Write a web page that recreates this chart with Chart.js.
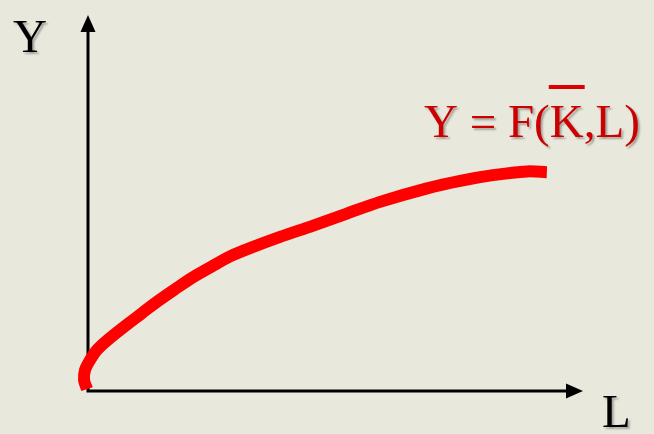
<!DOCTYPE html>
<html>
<head>
<meta charset="utf-8">
<script src="https://cdn.jsdelivr.net/npm/chart.js@4/dist/chart.umd.min.js"></script>
<style>
  html, body { margin: 0; padding: 0; background: #E9E8DC; }
  #wrap { width: 654px; height: 434px; }
</style>
</head>
<body>
<div id="wrap"><canvas id="grafica" width="654" height="434"></canvas></div>
<script>
// datos de la curva de producción (L en el eje x, Y en el eje y)
const curveL = [-0.2, -0.8, -0.6, 0.4, 1.8, 4.0, 7.5, 10.9, 14.1, 17.6, 21.0, 25.1, 28.7, 32.7, 38.8, 45.5, 52.3, 59.0, 68.5, 75.2, 81.8, 88.7, 92.7];
const curveY = [0.5, 2.9, 5.6, 8.2, 10.9, 13.6, 17.3, 20.7, 23.9, 27.1, 30.1, 33.2, 35.8, 38.0, 41.0, 44.0, 47.2, 50.3, 53.9, 55.9, 57.4, 58.4, 58.2];

const axisLabelY = "Y";
const axisLabelX = "L";
const formulaParts = ["Y = F(", "K", ",L)"];

const puntos = curveL.map((l, i) => ({ x: l, y: curveY[i] }));

// flechas de los ejes + textos
const ejesPlugin = {
  id: "ejes",
  beforeDatasetsDraw(chart) {
    const { ctx, scales: { x, y } } = chart;
    const x0 = x.getPixelForValue(0), x1 = x.getPixelForValue(100);
    const y0 = y.getPixelForValue(0), y1 = y.getPixelForValue(100);
    ctx.save();
    ctx.strokeStyle = "#000";
    ctx.fillStyle = "#000";
    ctx.lineWidth = 3;
    ctx.beginPath();
    ctx.moveTo(x0, y1 + 14);
    ctx.lineTo(x0, y0);
    ctx.lineTo(x1 - 14, y0);
    ctx.stroke();
    // punta eje Y
    ctx.beginPath();
    ctx.moveTo(x0, y1);
    ctx.lineTo(x0 - 7.5, y1 + 17);
    ctx.lineTo(x0 + 7.5, y1 + 17);
    ctx.closePath();
    ctx.fill();
    // punta eje X
    ctx.beginPath();
    ctx.moveTo(x1, y0);
    ctx.lineTo(x1 - 17, y0 - 7.5);
    ctx.lineTo(x1 - 17, y0 + 7.5);
    ctx.closePath();
    ctx.fill();
    ctx.restore();
  },
  afterDraw(chart) {
    const { ctx } = chart;
    ctx.save();
    ctx.shadowColor = "rgba(0,0,0,0.3)";
    ctx.shadowOffsetX = 2;
    ctx.shadowOffsetY = 2;
    ctx.shadowBlur = 2;
    ctx.textBaseline = "alphabetic";
    ctx.textAlign = "left";
    ctx.font = '47px "Liberation Serif", "Times New Roman", serif';
    ctx.fillStyle = "#000";
    ctx.fillText(axisLabelY, 13, 52);
    ctx.fillText(axisLabelX, 602, 427);

    // fórmula Y = F(K̄,L)
    ctx.fillStyle = "#CC0000";
    const xPos = 424;
    const anchoA = ctx.measureText(formulaParts[0]).width;
    const anchoK = ctx.measureText(formulaParts[1]).width;
    ctx.fillText(formulaParts[0], xPos, 137);
    ctx.fillText(formulaParts[1], xPos + anchoA, 137);
    ctx.fillText(formulaParts[2], xPos + anchoA + anchoK, 137);
    // barra sobre la K
    ctx.shadowColor = "transparent";
    ctx.fillStyle = "#DD0000";
    ctx.fillRect(xPos + anchoA - 1, 85, anchoK + 2, 4);
    ctx.restore();
  }
};

new Chart(document.getElementById("grafica"), {
  type: "scatter",
  data: {
    datasets: [{
      data: puntos,
      showLine: true,
      borderColor: "#FF0000",
      borderWidth: 12,
      borderCapStyle: "butt",
      borderJoinStyle: "round",
      tension: 0.3,
      pointRadius: 0,
      pointHoverRadius: 0,
      clip: false
    }]
  },
  options: {
    responsive: false,
    animation: false,
    events: [],
    layout: { padding: { left: 78.1, right: 71, top: 15, bottom: 43 } },
    plugins: {
      legend: { display: false },
      tooltip: { enabled: false }
    },
    scales: {
      x: { type: "linear", min: -2, max: 100, display: false },
      y: { type: "linear", min: 0, max: 100, display: false }
    }
  },
  plugins: [ejesPlugin]
});
</script>
</body>
</html>
